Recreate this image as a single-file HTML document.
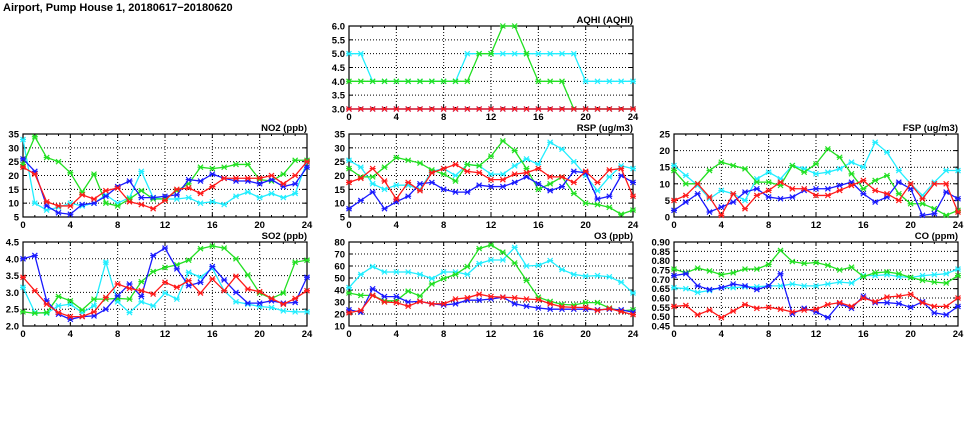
<!DOCTYPE html><html><head><style>body{margin:0;background:#fff}svg{display:block}text{font-family:"Liberation Sans",sans-serif;font-weight:bold;fill:#000}</style></head><body>
<svg id="s" width="975" height="447" xmlns="http://www.w3.org/2000/svg"><text x="3" y="11" font-size="11">Airport, Pump House 1, 20180617−20180620</text></svg>
<script>
const C={b:"#1a1aff",r:"#ff1a1a",g:"#22e022",c:"#22eeff"};
const P=[
{x0:349,y0:26,y1:109,min:3,max:6,step:0.5,dec:1,t:"AQHI (AQHI)",s:{
c:[5,5,4,4,4,4,4,4,4,4,5,5,5,5,5,5,5,5,5,5,4,4,4,4,4],
g:[4,4,4,4,4,4,4,4,4,4,4,5,5,6,6,5,4,4,4,3,3,3,3,3,3],
b:[3,3,3,3,3,3,3,3,3,3,3,3,3,3,3,3,3,3,3,3,3,3,3,3,3],
r:[3,3,3,3,3,3,3,3,3,3,3,3,3,3,3,3,3,3,3,3,3,3,3,3,3]}},
{x0:23,y0:134,y1:217,min:5,max:35,step:5,dec:0,t:"NO2 (ppb)",s:{
g:[24,34,26.5,25,21,14,20.5,10,9,11.5,14.5,11.5,11.5,14.5,17,23,22.5,23,24,24,18.5,18,20.5,25.5,25.5],
c:[33,10,7.5,8.5,10,9,10,13,10,12,21.5,12,11.5,11.5,12,10,10.5,9.5,12.5,14,12,13.5,12,13.5,25],
b:[26,21.5,9,6.5,6,9.5,10,12.5,16,18,12,12,12.5,13,18.5,18,20.5,19,18,18,17,18.5,16,17,23],
r:[23,20.5,10.5,9,9,13,11.5,14.5,15.5,10.5,9.5,8,11,15,15.5,13.5,16,19,19,19,19,20,17,20,25]}},
{x0:349,y0:134,y1:217,min:5,max:35,step:5,dec:0,t:"RSP (ug/m3)",s:{
c:[25.5,23,17,15,16.5,16.5,15,21.5,22.5,20,24,23.5,20.5,20.5,23.5,26,24,32,29.5,25,20,14.5,19.5,23.5,22.5],
g:[22.5,19.5,19.5,23,26.5,25.5,24.5,22,20.5,18,24,23.5,27,32.5,29,22.5,15,17,19.5,13.5,10,9.5,8.5,6,7.5],
r:[17.5,19,22.5,18,11.5,17.5,14.5,21,22.5,24,21.5,21,18.5,18.5,20.5,21,22.5,19.5,19.5,17.5,21.5,17.5,22,22.5,12.5],
b:[8,11,14,8,10.5,12.5,17,17.5,15,14,14,16.5,16,16,17.5,19.5,17,14.5,16,21.5,21,11.5,12.5,20,17.5]}},
{x0:674,y0:134,y1:217,min:0,max:25,step:5,dec:0,t:"FSP (ug/m3)",s:{
c:[15.5,12.5,9.5,5.5,8,7,5,11.5,13.5,11.5,15.5,14.5,13,13.5,14.5,16.5,15,22.5,19.5,14,10,6.5,10.5,14,14],
g:[14,10,10,14,16.5,15.5,14.5,10.5,10.5,9.5,15.5,13.5,16,20.5,18,13,8.5,11,12.5,7,4,4,2.5,0.5,2],
r:[5,6.5,10,6,0.5,7,2.5,6.5,8,10.5,8.5,8.5,6.5,6.5,8,9.5,11,8,7,5,10,5.5,10,10,1.5],
b:[2,4.5,7,1.5,3,4.5,7.5,8.5,6,5.5,6,8,8.5,8.5,9.5,10.5,7,4.5,6,10.5,8.5,0.5,1,7.5,5.5]}},
{x0:23,y0:242,y1:326,min:2,max:4.5,step:0.5,dec:1,t:"SO2 (ppb)",s:{
c:[3.15,2.4,2.38,2.6,2.65,2.4,2.6,3.9,2.72,2.4,2.72,2.6,2.98,2.8,3.6,3.45,3.72,3.05,2.72,2.65,2.58,2.55,2.45,2.42,2.42],
g:[2.42,2.38,2.4,2.88,2.75,2.48,2.8,2.8,2.82,2.8,3.32,3.62,3.74,3.82,3.96,4.3,4.38,4.32,4,3.52,2.98,2.82,2.98,3.9,3.96],
r:[3.45,3.05,2.65,2.4,2.28,2.28,2.42,2.85,3.25,3.12,3.05,2.95,3.3,3.15,3.35,2.98,3.4,3.05,3.48,3.1,3.02,2.82,2.65,2.82,3.05],
b:[4,4.1,2.75,2.35,2.2,2.28,2.3,2.5,2.9,3.25,2.88,4.1,4.32,3.7,3.2,3.3,3.77,3.37,3,2.68,2.68,2.75,2.68,2.7,3.45]}},
{x0:349,y0:242,y1:326,min:10,max:80,step:10,dec:0,t:"O3 (ppb)",s:{
c:[42,53,59.5,55,55,55,53,49.5,55,55,53,62,65,65,75.5,60,60.5,64.5,57,53,51.5,52,51,46.5,37.5],
g:[37.5,35.5,35.5,31,31,39,35,45,49.5,53,59.5,74.5,77.5,71.5,62.5,48,34,30.5,28,27.5,29.5,29.5,25,22.5,23.5],
b:[23.5,21.5,41,34.5,34.5,30,30.5,28.5,27.5,28.5,31.5,31.5,32.5,34,28.5,26.5,25,24,24,24,24,23.5,24,23.5,21.5],
r:[21,23,35.5,30,29.5,26.5,30.5,28.5,28.5,32.5,33.5,36.5,34.5,34,33.5,32.5,32,28.5,26,25.5,25.5,23,24.5,22,19.5]}},
{x0:674,y0:242,y1:326,min:0.45,max:0.9,step:0.05,dec:2,t:"CO (ppm)",s:{
g:[.755,.735,.76,.745,.725,.735,.755,.755,.78,.855,.795,.785,.79,.775,.75,.765,.715,.735,.74,.73,.71,.695,.685,.68,.72],
c:[.655,.65,.63,.64,.655,.655,.66,.66,.665,.665,.675,.665,.665,.675,.685,.68,.72,.72,.725,.715,.71,.72,.725,.73,.755],
b:[.72,.73,.665,.645,.655,.675,.665,.645,.665,.73,.515,.545,.525,.495,.57,.545,.61,.575,.575,.57,.55,.58,.52,.51,.555],
r:[.555,.56,.51,.535,.495,.53,.565,.545,.55,.54,.525,.535,.54,.565,.575,.555,.6,.58,.605,.61,.62,.575,.555,.555,.6]}}
];
let h="";const W=284;
for(const p of P){
 const X=i=>p.x0+i*W/24, Y=v=>p.y1-(v-p.min)/(p.max-p.min)*(p.y1-p.y0);
 const n=Math.round((p.max-p.min)/p.step);
 for(let k=0;k<=n;k++){const v=p.min+k*p.step,y=Y(v);
  if(k>0&&k<n)h+=`<line x1="${p.x0}" x2="${p.x0+W}" y1="${y}" y2="${y}" stroke="#000" stroke-width="1" stroke-dasharray="1,2"/>`;
  h+=`<line x1="${p.x0}" x2="${p.x0+4}" y1="${y}" y2="${y}" stroke="#000"/><line x1="${p.x0+W-4}" x2="${p.x0+W}" y1="${y}" y2="${y}" stroke="#000"/>`;
  h+=`<text x="${p.x0-4}" y="${y+3.5}" font-size="9.5" text-anchor="end">${v.toFixed(p.dec)}</text>`;}
 for(let i=0;i<=24;i++){const x=X(i),t=i%4==0?4:2;
  if(i%4==0&&i>0&&i<24)h+=`<line x1="${x}" x2="${x}" y1="${p.y0}" y2="${p.y1}" stroke="#000" stroke-dasharray="1,2"/>`;
  h+=`<line x1="${x}" x2="${x}" y1="${p.y1}" y2="${p.y1-t}" stroke="#000"/><line x1="${x}" x2="${x}" y1="${p.y0}" y2="${p.y0+t}" stroke="#000"/>`;
  if(i%4==0)h+=`<text x="${x}" y="${p.y1+11}" font-size="9.5" text-anchor="middle">${i}</text>`;}
 h+=`<rect x="${p.x0}" y="${p.y0}" width="${W}" height="${p.y1-p.y0}" fill="none" stroke="#000" stroke-width="1.2"/>`;
 h+=`<text x="${p.x0+W}" y="${p.y0-3}" font-size="9.5" text-anchor="end">${p.t}</text>`;
 for(const k of ["c","g","b","r"].filter(k=>p.s[k])){const d=p.s[k];
  h+=`<polyline fill="none" stroke="${C[k]}" stroke-width="1.3" points="${d.map((v,i)=>X(i)+","+Y(v)).join(" ")}"/>`;
  for(let i=0;i<25;i++){const x=X(i),y=Y(d[i]);
   h+=`<path d="M${x-2.5} ${y-2.5}L${x+2.5} ${y+2.5}M${x-2.5} ${y+2.5}L${x+2.5} ${y-2.5}M${x-3} ${y}H${x+3}" stroke="${C[k]}" stroke-width="1.2"/>`;}
 }
}
document.getElementById("s").insertAdjacentHTML("beforeend",h);
</script></body></html>
